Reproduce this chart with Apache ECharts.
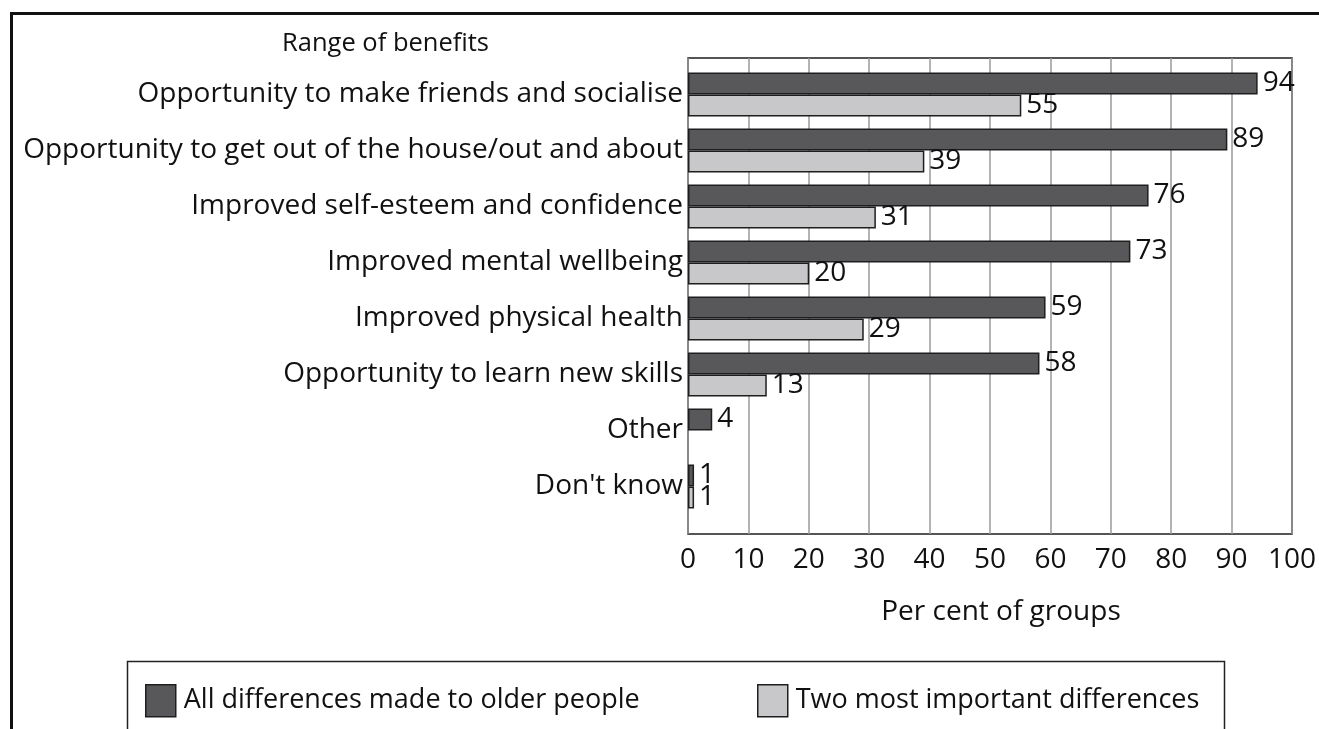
<!DOCTYPE html>
<html>
<head>
<meta charset="utf-8">
<title>Range of benefits</title>
<script src="https://cdn.jsdelivr.net/npm/echarts@6/dist/echarts.min.js"></script>
<style>
  html, body { margin: 0; padding: 0; background: #fff; }
  #chart { width: 1319px; height: 729px; }
</style>
</head>
<body>
<div id="chart"></div>
<script>
// Benefits reported by groups (per cent of groups)
const categories = [
  'Opportunity to make friends and socialise',
  'Opportunity to get out of the house/out and about',
  'Improved self-esteem and confidence',
  'Improved mental wellbeing',
  'Improved physical health',
  'Opportunity to learn new skills',
  'Other',
  "Don't know"
];
const allDifferences = [94, 89, 76, 73, 59, 58, 4, 1];
const twoMostImportant = [55, 39, 31, 20, 29, 13, null, 1];
const xTicks = [0, 10, 20, 30, 40, 50, 60, 70, 80, 90, 100];

const seriesNames = ['All differences made to older people', 'Two most important differences'];
const DARK = '#58585a';
const LIGHT = '#c8c8ca';
const EDGE = '#1e1e1e';
const FONT = '"Open Sans", "Noto Sans", sans-serif';
const TXT = '#111';
const FS = 28;

const chart = echarts.init(document.getElementById('chart'), null, { renderer: 'canvas' });

const barLabel = {
  show: true,
  position: 'right',
  distance: 5,
  fontFamily: FONT,
  fontSize: FS,
  color: TXT,
  formatter: p => (p.value == null ? '' : String(p.value))
};

const legendBase = {
  top: 684, orient: 'horizontal', padding: 0,
  itemWidth: 30, itemHeight: 32, itemGap: 12, icon: 'rect',
  itemStyle: { borderColor: EDGE, borderWidth: 1.5 },
  textStyle: { fontFamily: FONT, fontSize: 27, color: TXT, padding: [0, 0, 0, 3] },
  selectedMode: false
};

chart.setOption({
  animation: false,
  backgroundColor: '#fff',
  textStyle: { fontFamily: FONT },
  title: {
    text: 'Range of benefits', left: 282, top: 31, padding: 0,
    textStyle: { fontFamily: FONT, fontSize: 25.5, fontWeight: 500, color: TXT }
  },
  grid: [
    // frame with gridlines and the value axis
    { left: 688, right: 25, top: 58, bottom: 195, show: true, borderColor: EDGE, borderWidth: 1.5, backgroundColor: 'transparent' },
    // band area for the bars
    { left: 688, right: 25, top: 66.5, bottom: 214.5 }
  ],
  xAxis: [
    {
      gridIndex: 0, type: 'value', min: 0, max: 100, interval: 10,
      axisLine: { show: false }, axisTick: { show: false },
      splitLine: { show: true, lineStyle: { color: '#9a9a9a', width: 1.5 } },
      axisLabel: {
        fontFamily: FONT, fontSize: FS, color: TXT, margin: 12,
        formatter: v => (xTicks.indexOf(v) >= 0 ? String(v) : '')
      },
      name: 'Per cent of groups', nameLocation: 'middle', nameGap: 64,
      nameTextStyle: { fontFamily: FONT, fontSize: FS, color: TXT, padding: [0, 0, 0, 22] }
    },
    { gridIndex: 1, type: 'value', min: 0, max: 100, show: false }
  ],
  yAxis: [
    { gridIndex: 0, type: 'value', min: 0, max: 1, show: false },
    {
      gridIndex: 1, type: 'category', data: categories, inverse: true,
      axisLine: { show: false }, axisTick: { show: false },
      splitLine: { show: false },
      axisLabel: { fontFamily: FONT, fontSize: FS, color: TXT, margin: 5, align: 'right' }
    }
  ],
  legend: [
    Object.assign({ data: [seriesNames[0]], left: 145 }, legendBase),
    Object.assign({ data: [seriesNames[1]], left: 757 }, legendBase)
  ],
  graphic: [
    {
      type: 'rect', silent: true, z: -1,
      shape: { x: 11.5, y: 13.5, width: 1340, height: 760 },
      style: { fill: 'none', stroke: '#111', lineWidth: 3 }
    },
    {
      type: 'rect', silent: true,
      shape: { x: 127.5, y: 661.5, width: 1097, height: 100 },
      style: { fill: 'none', stroke: '#222', lineWidth: 1.5 }
    }
  ],
  series: [
    {
      name: seriesNames[0], type: 'bar', xAxisIndex: 1, yAxisIndex: 1,
      data: allDifferences, barWidth: 22, barGap: '0%',
      itemStyle: { color: DARK, borderColor: EDGE, borderWidth: 1.5 },
      label: barLabel
    },
    {
      name: seriesNames[1], type: 'bar', xAxisIndex: 1, yAxisIndex: 1,
      data: twoMostImportant, barWidth: 22, barGap: '0%',
      itemStyle: { color: LIGHT, borderColor: EDGE, borderWidth: 1.5 },
      label: barLabel
    }
  ]
});
</script>
</body>
</html>
